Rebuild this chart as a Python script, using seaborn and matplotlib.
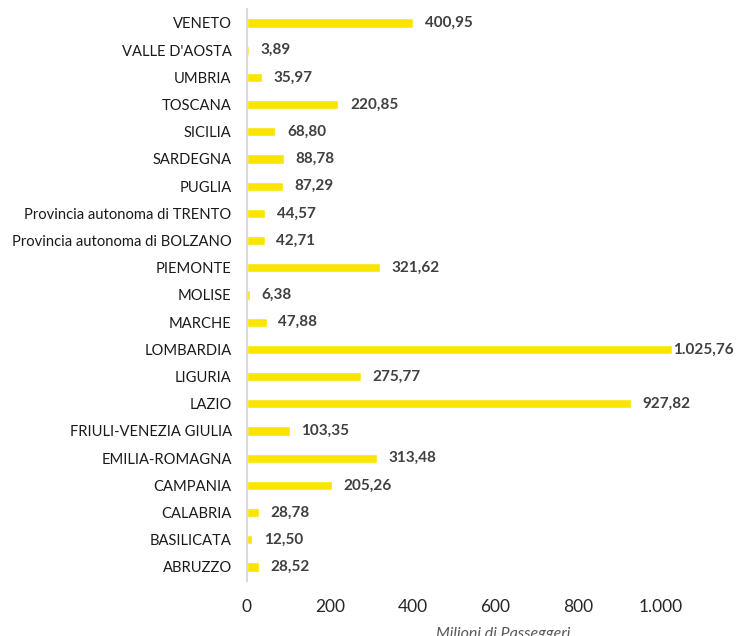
import matplotlib
matplotlib.use("Agg")
import matplotlib.pyplot as plt
import seaborn as sns
import pandas as pd

regions = ["VENETO", "VALLE D'AOSTA", "UMBRIA", "TOSCANA", "SICILIA", "SARDEGNA",
           "PUGLIA", "Provincia autonoma di TRENTO", "Provincia autonoma di BOLZANO",
           "PIEMONTE", "MOLISE", "MARCHE", "LOMBARDIA", "LIGURIA", "LAZIO",
           "FRIULI-VENEZIA GIULIA", "EMILIA-ROMAGNA", "CAMPANIA", "CALABRIA",
           "BASILICATA", "ABRUZZO"]
passengers = [400.95, 3.89, 35.97, 220.85, 68.80, 88.78, 87.29, 44.57, 42.71,
              321.62, 6.38, 47.88, 1025.76, 275.77, 927.82, 103.35, 313.48,
              205.26, 28.78, 12.50, 28.52]
x_ticks = [0, 200, 400, 600, 800, 1000]

df = pd.DataFrame({"regione": regions, "valore": passengers})

def it_fmt(v, dec=2):
    s = f"{v:,.{dec}f}"
    return s.replace(",", "X").replace(".", ",").replace("X", ".")

sns.set_style("white")
plt.rcParams['font.family'] = ['Lato', 'DejaVu Sans']

fig = plt.figure(figsize=(7.36, 6.36), dpi=100)
# plot area runs past the right edge, like the cropped original
ax = fig.add_axes([247 / 736, 1 - 580.6 / 636, 510 / 736, 571.2 / 636])

sns.barplot(data=df, x="valore", y="regione", orient="h", color="#FAE500",
            saturation=1, width=0.34, ax=ax)

ax.set_xlim(0, 1232)
ax.set_xticks(x_ticks)
ax.set_xticklabels([it_fmt(t, 0) for t in x_ticks], fontsize=12.5, color="#262626")
ax.tick_params(axis="x", length=0, pad=13)
ax.tick_params(axis="y", length=0, pad=11, labelsize=10.6, labelcolor="#1a1a1a")

# labels sit a bit right of the bar, but the longest one is pulled back to fit
for i, v in enumerate(passengers):
    ax.text(min(v + 28, 1030), i, it_fmt(v), va="center", ha="left", fontsize=11,
            fontweight="bold", color="#404040")

for side in ["top", "right", "bottom"]:
    ax.spines[side].set_visible(False)
ax.spines["left"].set_color("#D9D9D9")
ax.spines["left"].set_linewidth(1.5)

ax.set_ylabel("")
ax.set_xlabel("Milioni di Passeggeri", fontsize=11.5, style="italic", color="#595959")
ax.xaxis.set_label_coords((503 - 247) / 510, -0.082)

fig.savefig("out.png", dpi=100)
